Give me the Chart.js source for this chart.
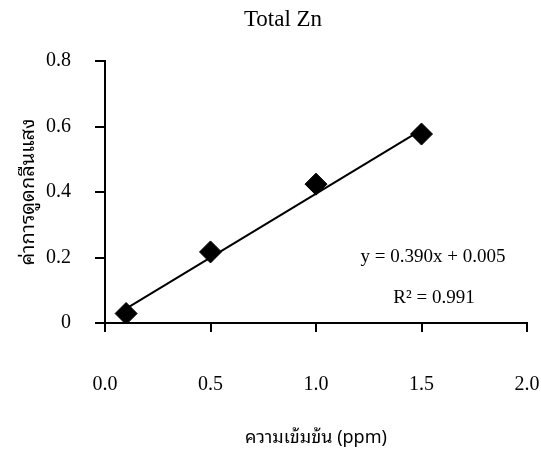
<!DOCTYPE html>
<html>
<head>
<meta charset="utf-8">
<script src="https://cdn.jsdelivr.net/npm/chart.js@4/dist/chart.umd.min.js"></script>
<style>
  html, body { margin: 0; padding: 0; background: #ffffff; }
  #wrap { width: 541px; height: 449px; position: relative; }
</style>
</head>
<body>
<div id="wrap"><canvas id="c" width="541" height="449"></canvas></div>
<script>
// Calibration data: total zinc standards
const concentration = [0.1, 0.5, 1.0, 1.5];        // ppm
const absorbance = [0.029, 0.217, 0.424, 0.577];   // measured absorbance

// Linear fit reported on the chart
const slope = 0.390;
const intercept = 0.005;
const rSquared = 0.991;

const xTicks = [0.0, 0.5, 1.0, 1.5, 2.0];
const yTicks = [0, 0.2, 0.4, 0.6, 0.8];

const chartTitle = 'Total Zn';
const xTitle = 'ความเข้มข้น (ppm)';
const yTitle = 'ค่าการดูดกลืนแสง';

const serif = "'Liberation Serif', 'Times New Roman', serif";
const thai = "'Noto Sans Thai Looped', 'Norasi', 'Garuda', 'Loma', 'Noto Sans Thai', 'Noto Serif Thai', 'DejaVu Sans', sans-serif";

const fitLine = [concentration[0], concentration[concentration.length - 1]].map(x => ({
  x: x, y: slope * x + intercept
}));

const textPlugin = {
  id: 'annotText',
  afterDraw(chart) {
    const ctx = chart.ctx;
    ctx.save();
    ctx.fillStyle = '#000';
    ctx.textAlign = 'center';
    ctx.textBaseline = 'middle';
    ctx.font = '23px ' + serif;
    ctx.fillText(chartTitle, 283, 20);
    ctx.font = '19px ' + serif;
    const b = intercept >= 0 ? ' + ' + intercept.toFixed(3) : ' − ' + Math.abs(intercept).toFixed(3);
    ctx.fillText('y = ' + slope.toFixed(3) + 'x' + b, 433, 257);
    ctx.fillText('R² = ' + rSquared.toFixed(3), 434, 298);
    ctx.restore();
  }
};

new Chart(document.getElementById('c'), {
  type: 'scatter',
  data: {
    datasets: [
      {
        label: 'fit',
        data: fitLine,
        type: 'line',
        showLine: true,
        borderColor: '#000',
        borderWidth: 2,
        pointRadius: 0,
        fill: false,
        order: 2
      },
      {
        label: 'Total Zn',
        data: concentration.map((x, i) => ({ x: x, y: absorbance[i] })),
        pointStyle: 'rectRot',
        pointRadius: 11,
        pointHoverRadius: 11,
        backgroundColor: '#000',
        borderColor: '#000',
        order: 1
      }
    ]
  },
  plugins: [textPlugin],
  options: {
    responsive: false,
    animation: false,
    devicePixelRatio: 1,
    layout: { padding: { top: 61, right: 14, left: 0, bottom: 0 } },
    plugins: {
      legend: { display: false },
      title: { display: false },
      tooltip: { enabled: false }
    },
    scales: {
      x: {
        type: 'linear',
        min: 0, max: 2,
        afterBuildTicks: s => { s.ticks = xTicks.map(v => ({ value: v })); },
        afterFit: s => { s.height = 126; s.paddingLeft = 0; s.paddingRight = 0; },
        ticks: {
          color: '#000',
          padding: 41,
          maxRotation: 0,
          font: { family: serif, size: 20 },
          callback: v => Number(v).toFixed(1)
        },
        grid: { drawOnChartArea: false, drawTicks: true, tickLength: 9, color: '#000', lineWidth: 2 },
        border: { display: true, color: '#000', width: 2 },
        title: {
          display: true, text: xTitle, color: '#000',
          font: { family: thai, size: 18 },
          padding: { top: 0, bottom: 0 }
        }
      },
      y: {
        type: 'linear',
        min: 0, max: 0.8,
        afterBuildTicks: s => { s.ticks = yTicks.map(v => ({ value: v })); },
        afterFit: s => { s.width = 105; },
        ticks: {
          color: '#000',
          padding: 24,
          font: { family: serif, size: 20 },
          callback: v => (v === 0 ? '0' : Number(v).toFixed(1))
        },
        grid: { drawOnChartArea: false, drawTicks: true, tickLength: 10, color: '#000', lineWidth: 2 },
        border: { display: true, color: '#000', width: 2 },
        title: {
          display: true, text: yTitle, color: '#000',
          font: { family: thai, size: 20 },
          padding: { top: 16, bottom: 0 }
        }
      }
    }
  }
});
</script>
</body>
</html>
